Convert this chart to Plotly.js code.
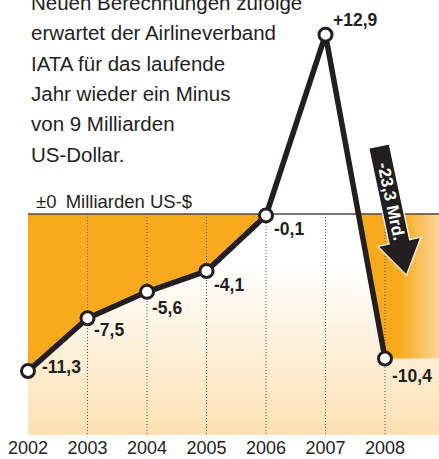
<!DOCTYPE html>
<html>
<head>
<meta charset="utf-8">
<script src="https://cdn.plot.ly/plotly-3.0.1.min.js"></script>
<style>
  html, body { margin: 0; padding: 0; background: #ffffff; }
  #chart { width: 439px; height: 459px; }
</style>
</head>
<body>
<div id="chart"></div>
<script>
// ---------------- data ----------------
const years = [2002, 2003, 2004, 2005, 2006, 2007, 2008];
const values = [-11.3, -7.5, -5.6, -4.1, -0.1, 12.9, -10.4];
const tickLabels = ['2002', '2003', '2004', '2005', '2006', '2007', '2008'];
const introLines = [
  'Neuen Berechnungen zufolge',
  'erwartet der Airlineverband',
  'IATA für das laufende',
  'Jahr wieder ein Minus',
  'von 9 Milliarden',
  'US-Dollar.'
];
const zeroNote = '±0\u2002Milliarden US-$';
const changeUnit = 'Mrd.';

// ---------------- layout constants ----------------
const W = 439, H = 459;
const M = { l: 28, r: 0, t: 0, b: 24 };
const plotW = W - M.l - M.r, plotH = H - M.t - M.b;
const pxPerYear = 59.5, pxPerUnit = 13.9, zeroPy = 214;
const xRange = [years[0], years[0] + plotW / pxPerYear];
const yRange = [-(plotH - zeroPy) / pxPerUnit, zeroPy / pxPerUnit];
const xRight = xRange[1], yBottom = yRange[0];

const INK = '#231F20';
const ORANGE = '#F8AA1C';
const LIGHT_ORANGE = '#FDD597';
const PEACH = '#FDE0B3';
const FONT = 'Liberation Sans, Arial, Helvetica, sans-serif';

// label placement (pixel offsets from each point), kept separate from data
const labelDx = [12, 4, 3, 5, 6, 5, 5];
const labelDy = [4, -12, -16, -14, -14, 14.5, -17];

const fmt = v => (v > 0 ? '+' : '') + v.toFixed(1).replace('.', ',');

// screen px -> paper
const px2paperX = px => (px - M.l) / plotW;
const px2paperY = py => 1 - (py - M.t) / plotH;

// ---------------- negative runs (fill between line and zero) ----------------
const runs = [];
let cur = [];
for (let i = 0; i < years.length; i++) {
  const x = years[i], y = values[i];
  if (i > 0) {
    const x0 = years[i - 1], y0 = values[i - 1];
    const xc = x0 + (0 - y0) * (x - x0) / (y - y0);
    if (y0 < 0 && y >= 0) { cur.push([xc, 0]); runs.push({ pts: cur, trailing: false }); cur = []; }
    else if (y0 >= 0 && y < 0) { cur = [[xc, 0]]; }
  }
  if (y < 0) cur.push([x, y]);
}
if (cur.length) { cur.push([xRight, values[values.length - 1]]); runs.push({ pts: cur, trailing: true }); }

const traces = [];

// background vertical gradient below zero
traces.push({
  type: 'scatter', mode: 'none', hoverinfo: 'skip', showlegend: false,
  x: [years[0], xRight, xRight, years[0]],
  y: [0, 0, yBottom, yBottom],
  fill: 'toself', fillcolor: PEACH,
  fillgradient: { type: 'vertical', start: yBottom, stop: 0,
    colorscale: [[0, PEACH], [0.78, '#FFFFFF'], [1, '#FFFFFF']] }
});

runs.forEach(r => {
  const t = {
    type: 'scatter', mode: 'none', hoverinfo: 'skip', showlegend: false,
    x: r.pts.map(p => p[0]), y: r.pts.map(p => p[1]),
    fill: 'tozeroy', fillcolor: ORANGE
  };
  if (r.trailing) {
    const x0 = r.pts[0][0];
    const lastYear = years[years.length - 1];
    const f = Math.min(0.99, (lastYear + 0.25 - x0) / (xRight - x0));
    t.fillgradient = { type: 'horizontal', start: x0, stop: xRight,
      colorscale: [[0, ORANGE], [f, ORANGE], [1, LIGHT_ORANGE]] };
  }
  traces.push(t);
});

// dotted year lines
const dx = [], dy = [];
years.slice(1).forEach(yr => { dx.push(yr, yr, null); dy.push(0, yBottom, null); });
traces.push({
  type: 'scatter', mode: 'lines', hoverinfo: 'skip', showlegend: false,
  x: dx, y: dy, line: { color: '#555555', width: 1, dash: '1px,2px' }
});

// zero line
traces.push({
  type: 'scatter', mode: 'lines', hoverinfo: 'skip', showlegend: false,
  x: [years[0], xRight], y: [0, 0], line: { color: '#4a4a4a', width: 1.5 }
});

// main line with markers
traces.push({
  type: 'scatter', mode: 'lines+markers', hoverinfo: 'skip', showlegend: false,
  x: years, y: values, cliponaxis: false,
  line: { color: INK, width: 5.5 },
  marker: { size: 13, color: '#FFFFFF', line: { color: INK, width: 3 } }
});

// ---------------- annotations ----------------
const annotations = [];
introLines.forEach((txt, i) => {
  annotations.push({
    xref: 'paper', yref: 'paper', x: px2paperX(29), y: px2paperY(2.5 + i * 30.3),
    xanchor: 'left', yanchor: 'middle', showarrow: false, text: txt,
    font: { family: FONT, size: 20.5, color: INK }
  });
});
annotations.push({
  xref: 'paper', yref: 'paper', x: px2paperX(34), y: px2paperY(201),
  xanchor: 'left', yanchor: 'middle', showarrow: false, text: zeroNote,
  font: { family: FONT, size: 18.5, color: INK }
});
years.forEach((yr, i) => {
  annotations.push({
    x: yr, y: values[i], xref: 'x', yref: 'y', showarrow: false,
    xanchor: 'left', yanchor: 'middle', xshift: labelDx[i], yshift: labelDy[i],
    text: '<b>' + fmt(values[i]) + '</b>',
    font: { family: FONT, size: 17.5, color: INK }
  });
});

// change arrow (decoration) geometry in screen px
const n = values.length;
const change = values[n - 1] - values[n - 2];
const theta = 78 * Math.PI / 180;
const S = [379, 146];
const d = [Math.cos(theta), Math.sin(theta)];
const p = [d[1], -d[0]];
const hw = 10.5, hh = 22, uh = 98, L = 132;
const pt = (u, v) => [S[0] + u * d[0] + v * p[0], S[1] + u * d[1] + v * p[1]];
const poly = [pt(0, -hw), pt(0, hw), pt(uh, hw), pt(uh, hh), pt(L, 0), pt(uh, -hh), pt(uh, -hw)];
const path = poly.map((q, i) => (i ? 'L' : 'M') + px2paperX(q[0]).toFixed(5) + ',' + px2paperY(q[1]).toFixed(5)).join(' ') + ' Z';
const shapes = [{
  type: 'path', xref: 'paper', yref: 'paper', path: path,
  fillcolor: INK, line: { color: '#FFFFFF', width: 1.2 }, layer: 'above'
}];
const tc = pt(57, 0);
annotations.push({
  xref: 'paper', yref: 'paper', x: px2paperX(tc[0]), y: px2paperY(tc[1]),
  xanchor: 'center', yanchor: 'middle', showarrow: false, textangle: 78,
  text: '<b>' + change.toFixed(1).replace('.', ',') + ' ' + changeUnit + '</b>',
  font: { family: FONT, size: 17, color: '#FFFFFF' }
});

const layout = {
  width: W, height: H, margin: M,
  paper_bgcolor: '#FFFFFF', plot_bgcolor: '#FFFFFF',
  showlegend: false, hovermode: false,
  xaxis: {
    range: xRange, showgrid: false, zeroline: false, showline: false, ticks: '',
    tickmode: 'array', tickvals: years, ticktext: tickLabels,
    tickfont: { family: FONT, size: 18, color: INK }, fixedrange: true
  },
  yaxis: {
    range: yRange, showgrid: false, zeroline: false, showline: false,
    showticklabels: false, ticks: '', fixedrange: true
  },
  shapes: shapes,
  annotations: annotations
};

Plotly.newPlot('chart', traces, layout, { staticPlot: true, displayModeBar: false });
</script>
</body>
</html>
